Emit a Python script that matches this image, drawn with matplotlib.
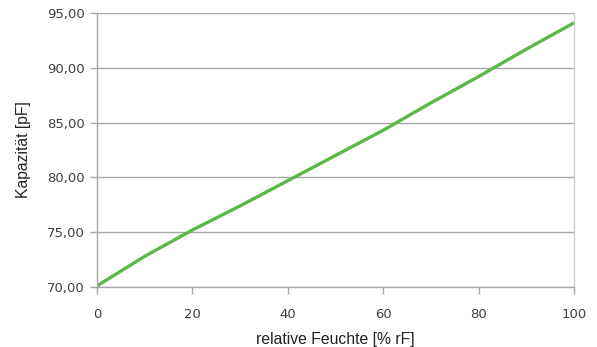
import matplotlib
matplotlib.use("Agg")
import matplotlib.pyplot as plt
from matplotlib.ticker import FuncFormatter, MultipleLocator

humidity = [0, 10, 20, 30, 40, 50, 60, 70, 80, 90, 100]
capacitance = [70.1, 72.8, 75.2, 77.4, 79.7, 82.0, 84.3, 86.8, 89.2, 91.7, 94.1]
x_label = "relative Feuchte [% rF]"
y_label = "Kapazität [pF]"

fig = plt.figure(figsize=(5.97, 3.47), dpi=100)
ax = fig.add_axes([97/597, 1-287/347, (574-97)/597, (287-13)/347])

ax.plot(humidity, capacitance, color="#5ab946", lw=2.4, solid_capstyle="butt")

ax.set_xlim(0, 100)
ax.set_ylim(70, 95)
ax.xaxis.set_major_locator(MultipleLocator(20))
ax.yaxis.set_major_locator(MultipleLocator(5))
ax.yaxis.set_major_formatter(FuncFormatter(lambda v, p: f"{v:.2f}".replace(".", ",")))

ax.grid(axis="y", color="#a6a6a6", lw=1)
ax.set_axisbelow(True)
ax.spines["top"].set_visible(False)
ax.spines["right"].set_color("#d0d0d0")
ax.spines["left"].set_color("#a6a6a6")
ax.spines["bottom"].set_color("#a6a6a6")
for s in ax.spines.values():
    s.set_linewidth(1)
ax.tick_params(axis="both", colors="#a6a6a6", length=5, width=1, labelcolor="#404040", labelsize=9.5)
ax.tick_params(axis="x", pad=10)
ax.tick_params(axis="y", pad=4)

ax.set_xlabel(x_label, fontsize=11.3, color="#222222", family="Liberation Sans", labelpad=8)
ax.set_ylabel(y_label, fontsize=11.3, color="#222222", family="Liberation Sans", labelpad=11)

fig.savefig("out.png", dpi=100, facecolor="white")
